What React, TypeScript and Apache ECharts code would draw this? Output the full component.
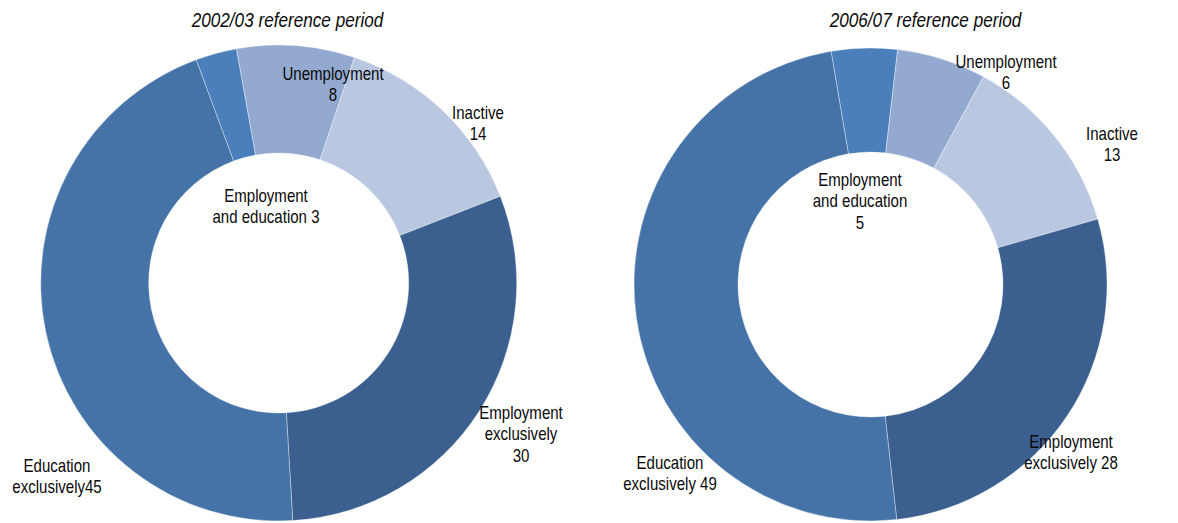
import React, { useEffect, useRef } from "react";
import * as echarts from "echarts";

const categories = [
  "Employment and education",
  "Unemployment",
  "Inactive",
  "Employment exclusively",
  "Education exclusively",
];
const values2002 = [2.8, 8.0, 13.9, 30.0, 45.3];
const values2006 = [4.5, 6.1, 12.6, 27.7, 49.1];
const titles = ["2002/03 reference period", "2006/07 reference period"];
// label text templates ({v} replaced by rounded value)
const labels2002 = [
  "Employment\nand education {v}",
  "Unemployment\n{v}",
  "Inactive\n{v}",
  "Employment\nexclusively\n{v}",
  "Education\nexclusively{v}",
];
const labels2006 = [
  "Employment\nand education\n{v}",
  "Unemployment\n{v}",
  "Inactive\n{v}",
  "Employment\nexclusively {v}",
  "Education\nexclusively {v}",
];
const colors = ["#4a7fbb", "#93a9cf", "#b9c7e1", "#3b6090", "#4573a8"];

// layout (label centres)
const labelPos2002 = [
  [266, 206],
  [333, 84],
  [478, 123],
  [521, 434],
  [57, 476],
];
const labelPos2006 = [
  [860, 201],
  [1006, 72],
  [1112, 144],
  [1071, 452],
  [670, 473],
];

const FONT = "'Liberation Sans', Arial, sans-serif";

export default function App() {
  const ref = useRef<HTMLDivElement>(null);
  useEffect(() => {
    document.body.style.margin = "0";
    const chart = echarts.init(ref.current!, undefined, { renderer: "svg" });
    const mkSeries = (vals: number[], center: [number, number], r: [number, number], start: number) => ({
      type: "pie",
      center,
      radius: r,
      startAngle: start,
      clockwise: true,
      silent: true,
      z: 1,
      label: { show: false },
      labelLine: { show: false },
      itemStyle: { borderColor: "rgba(255,255,255,0.6)", borderWidth: 0.6 },
      data: vals.map((v, i) => ({ name: categories[i], value: v, itemStyle: { color: colors[i] } })),
    });
    const mkLabels = (vals: number[], tpl: string[], pos: number[][]) =>
      vals.map((v, i) => ({
        type: "text",
        x: pos[i][0],
        y: pos[i][1],
        scaleX: 0.86,
        z: 100,
        style: {
          text: tpl[i].replace("{v}", String(Math.round(v))),
          fontFamily: FONT,
          fontSize: 17.5,
          lineHeight: 21.5,
          fill: "#0a0a0a",
          align: "center",
          verticalAlign: "middle",
        },
      }));
    const mkTitle = (text: string, x: number) => ({
      type: "text",
      x,
      y: 20,
      scaleX: 0.88,
      z: 100,
      style: { text, fontFamily: FONT, fontStyle: "italic", fontSize: 19.5, fill: "#0a0a0a", align: "center", verticalAlign: "middle" },
    });
    chart.setOption({
      animation: false,
      series: [
        mkSeries(values2002, [278.7, 283], [130, 238], 110.3),
        mkSeries(values2006, [870.5, 284.5], [132.5, 236.5], 99.6),
      ],
      graphic: [
        mkTitle(titles[0], 287.5),
        mkTitle(titles[1], 925.5),
        ...mkLabels(values2002, labels2002, labelPos2002),
        ...mkLabels(values2006, labels2006, labelPos2006),
      ],
    });
    return () => chart.dispose();
  }, []);
  return <div ref={ref} style={{ width: 1178, height: 523 }} />;
}
